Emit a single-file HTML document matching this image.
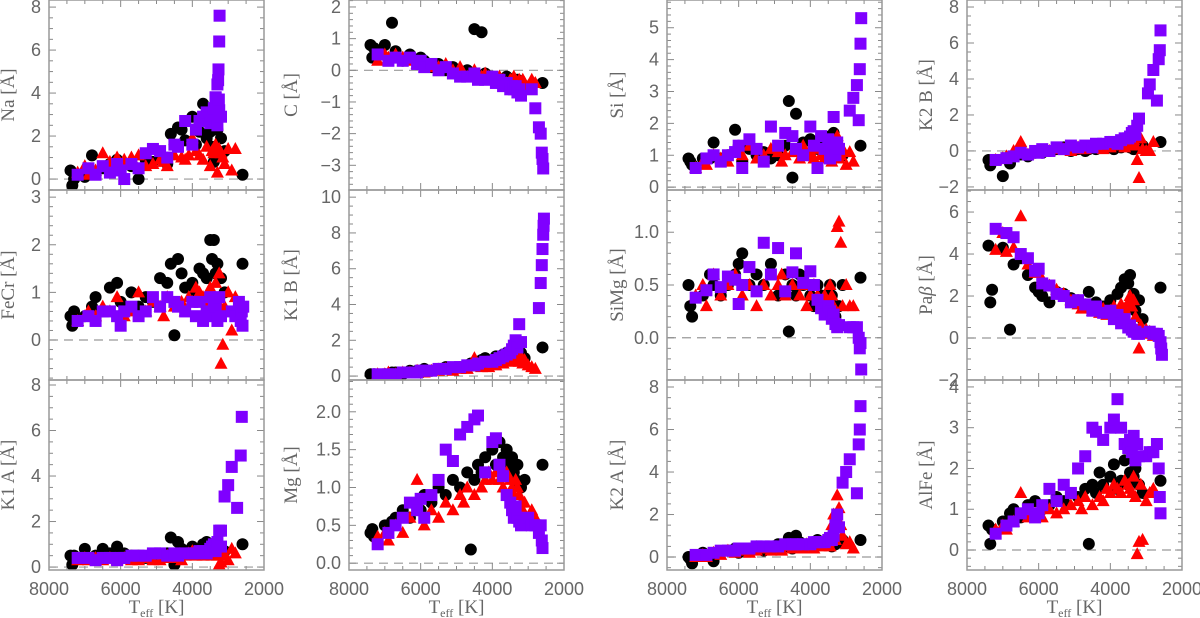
<!DOCTYPE html>
<html><head><meta charset="utf-8"><style>
html,body{margin:0;padding:0;background:#fff;}
svg{display:block;font-family:"Liberation Sans",sans-serif;}
</style></head><body>
<svg id="fig" width="1200" height="618" viewBox="0 0 1200 618" xmlns="http://www.w3.org/2000/svg"></svg>
<script>
// Shared effective temperatures for each star sample
const teffBlack = [7400,7350,7300,7000,6800,6700,6500,6300,6100,6000,5900,5700,5500,5300,5100,4900,4700,4600,4500,4400,4300,4200,4000,3900,3800,3700,3600,3500,3450,3400,3350,3300,3200,3100,2600];
const teffRed = [7200,7000,6900,6700,6500,6300,6100,5900,5700,5500,5300,5100,4900,4800,4700,4500,4300,4200,4100,4000,3900,3800,3700,3600,3500,3450,3400,3350,3300,3250,3200,3150,3100,3000,2900,2800];
const teffPurple = [7200,6900,6700,6500,6300,6100,6000,5900,5700,5500,5300,5100,4900,4700,4500,4400,4200,4000,3900,3800,3700,3600,3500,3450,3400,3350,3300,3250,3200];
const xTicks = [8000,6000,4000,2000];

// Black circle values
const naBlack = [0.4,-0.3,0,0.1,1.1,0.3,0.5,0.7,0.9,0.5,0.7,0.6,0,0.9,0.8,1.0,0.7,2.1,1.6,2.4,2.3,1.8,2.9,1.6,2.2,3.5,1.9,2.2,1.5,0.8,1.3,2.3,1.9,1.3,0.2];
const cBlack = [0.8,0.4,0.7,0.8,1.5,0.6,0.3,0.5,0.2,0.4,0.3,0.1,0.2,0,0.1,-0.1,0,-0.1,1.3,-0.2,1.2,-0.1,-0.2,-0.3,-0.3,-0.4,-0.2,-0.5,-0.3,-0.4,-0.5,-0.3,-0.4,-0.5,-0.4];
const siBlack = [0.9,0.8,0.7,0.9,0.9,1.4,0.9,1.0,1.8,1.3,0.8,1.2,1.0,1.1,0.9,1.0,1.3,2.7,0.3,2.3,1.1,1.4,1.5,1.3,1.2,1.2,1.5,1.0,1.6,0.9,1.7,1.5,1.2,1.0,1.3];
const k2bBlack = [-0.5,-0.8,-0.6,-1.4,-0.7,-0.3,-0.2,-0.3,-0.1,0,-0.1,0,0.1,0.2,0,0.1,0,0.1,0.2,0.1,0.3,0.2,0.2,0.1,0.3,0.2,0.4,0.5,0.2,0.3,0.1,0.4,0.5,0.3,0.5];
const fecrBlack = [0.5,0.3,0.6,0.5,0.7,0.9,0.6,1.1,1.2,0.8,0.6,1.0,0.7,0.9,0.8,1.3,1.2,1.6,0.1,1.7,1.4,1.1,1.2,1.0,1.5,1.4,1.3,2.1,1.7,2.1,1.4,1.6,1.3,1.0,1.6];
const k1bBlack = [0.1,0,0.1,0.1,0.2,0.2,0.1,0.3,0.3,0.2,0.4,0.3,0.4,0.5,0.4,0.5,0.6,0.7,0.6,0.8,0.9,1.0,0.8,1.1,0.9,1.2,1.3,1.1,1.4,1.6,1.2,1.5,1.3,1.0,1.6];
const simgBlack = [0.5,0.3,0.2,0.4,0.6,0.5,0.4,0.5,0.6,0.7,0.8,0.5,0.6,0.5,0.7,0.4,0.6,0.06,0.5,0.4,0.6,0.5,0.4,0.3,0.5,0.4,0.3,0.4,0.5,0.4,0.3,0.2,0.3,0.5,0.57];
const pabBlack = [4.4,1.7,2.3,4.3,0.4,3.5,3.8,3.0,2.4,2.2,2.0,1.7,2.2,2.1,1.9,1.8,1.6,2.2,1.4,1.7,1.3,1.5,1.8,1.3,2.1,2.4,2.8,2.6,3.0,1.7,2.1,1.3,1.8,0.9,2.4];
const k1aBlack = [0.5,0.1,0.5,0.8,0.4,0.5,0.8,0.6,0.9,0.4,0.6,0.5,0.5,0.4,0.5,0.6,0.6,1.3,0.1,1.1,0.8,0.6,0.9,0.7,0.8,1.0,1.1,0.9,0.8,1.0,0.7,0.9,0.6,0.7,1.0];
const mgBlack = [0.4,0.45,0.35,0.5,0.55,0.6,0.7,0.6,0.8,0.7,0.9,0.8,1.0,0.9,1.1,1.0,1.2,0.18,1.1,1.3,1.2,1.4,1.5,1.3,1.6,1.4,1.5,1.3,1.4,1.2,1.1,1.3,1.0,1.1,1.3];
const k2aBlack = [0,-0.1,-0.3,0.2,0.1,-0.2,0.2,0.3,0.4,0.2,0.3,0.4,0.5,0.3,0.4,0.6,0.5,0.9,0.4,1.0,0.7,0.5,0.6,0.7,0.8,0.6,0.7,0.9,0.8,0.5,0.7,0.6,0.7,0.8,0.8];
const alfeBlack = [0.6,0.15,0.5,0.7,0.9,1.0,0.8,1.1,1.2,0.9,1.0,1.1,1.3,1.2,1.4,1.3,1.5,0.15,1.6,1.4,1.9,1.6,1.8,2.1,1.5,1.7,2.2,1.6,1.9,1.7,1.8,2.0,1.6,1.4,1.7];

// Red triangle values
const naRed = [0.3,0.6,0.2,0.4,1.2,0.8,1.0,0.9,1.0,1.1,0.6,0.7,0.9,0.8,0.6,1.1,1.0,0.9,1.1,1.9,1.3,1.1,0.9,1.5,0.6,1.3,1.2,1.6,0.3,1.4,1.2,1.0,0.7,1.4,0.4,1.4];
const cRed = [0.3,0.5,0.4,0.5,0.4,0.3,0.2,0.2,0.1,0.1,0.2,0,0.1,-0.1,-0.2,0,-0.2,-0.1,-0.2,-0.3,-0.3,-0.2,-0.3,-0.4,-0.3,-0.4,-0.2,-0.5,-0.4,-0.3,-0.4,-0.3,-0.4,-0.5,-0.3,-0.4];
const siRed = [0.6,0.8,0.7,1.0,0.9,0.8,1.1,1.0,1.3,0.9,1.0,1.2,1.1,0.8,1.0,1.1,0.9,1.3,1.0,1.1,0.9,1.2,1.0,0.9,1.1,1.0,0.8,1.2,1.0,1.6,0.9,1.0,1.2,0.7,1.1,0.8];
const k2bRed = [-0.5,-0.4,-0.3,0,0.5,-0.2,-0.1,0,0,0.1,0.1,0,0.2,0.1,0.1,0.2,0.2,0.1,0.3,0.2,0.3,0.3,0.4,0.2,0.5,0.3,0.4,0.6,0.3,-0.5,-1.5,0.7,0.1,0,0,0.5];
const fecrRed = [0.4,0.5,0.6,0.5,0.7,0.6,0.9,0.5,0.6,1.0,0.6,0.8,0.7,0.5,0.9,0.7,0.8,0.6,0.9,0.8,1.1,1.0,0.9,0.8,1.1,0.7,0.9,1.2,0.8,1.4,-0.5,-0.1,0.7,1.0,0.2,0.9];
const k1bRed = [0.1,0.1,0.2,0.1,0.2,0.2,0.3,0.2,0.3,0.3,0.4,0.3,0.4,0.5,0.4,1.0,0.5,0.6,0.5,0.7,0.6,0.8,0.7,0.9,0.8,1.0,0.9,1.2,1.0,0.8,1.1,0.7,0.9,0.6,0.5,0.4];
const simgRed = [0.4,0.5,0.3,0.6,0.4,0.5,0.6,0.4,0.5,0.3,0.5,0.4,0.5,0.6,0.4,0.5,0.4,0.5,0.3,0.4,0.5,0.4,0.3,0.4,0.3,0.5,0.4,0.3,0.2,1.05,1.1,0.9,0.3,0.5,0.3,0.3];
const pabRed = [4.2,5.0,4.1,4.3,5.8,3.5,3.1,2.8,2.5,2.3,2.1,1.8,1.6,1.4,1.5,1.3,1.2,1.4,1.1,1.3,1.5,1.2,1.6,1.4,1.7,2.0,1.5,1.8,1.0,0.3,-0.5,0.6,0.2,0.4,0.3,0.1];
const k1aRed = [0.3,0.4,0.3,0.4,0.3,0.4,0.3,0.4,0.3,0.3,0.4,0.3,0.3,0.4,0.5,0.4,0.3,0.5,0.6,0.7,0.5,0.6,0.5,0.7,0.6,0.5,0.7,0.6,0.5,0.1,0.2,0.7,0.5,0.3,0.8,0.6];
const mgRed = [0.35,0.4,0.3,0.5,0.4,0.6,1.1,0.5,0.7,0.6,0.8,0.7,0.9,0.8,1.0,0.9,1.0,1.1,1.2,1.1,1.2,1.1,1.0,1.2,1.1,1.0,0.9,1.1,1.0,0.9,0.8,0.7,0.8,0.6,0.7,0.6];
const k2aRed = [0,0.1,0,0.2,0.1,0.3,0.2,0.3,0.2,0.3,0.4,0.3,0.4,0.3,0.5,0.4,0.5,0.4,0.6,0.5,0.4,0.6,0.5,0.6,0.7,0.5,1.5,2.0,0.8,2.9,2.3,1.5,1.0,0.6,0.7,0.4];
const alfeRed = [0.5,0.6,0.5,0.7,1.4,0.8,0.9,0.8,1.0,0.9,1.0,1.1,1.2,1.0,1.3,1.1,1.3,1.2,1.5,1.4,1.6,1.5,1.4,1.7,1.6,1.5,1.4,1.8,1.3,-0.1,0.2,1.6,0.25,1.2,1.4,1.5];

// Purple square values (main body)
const naPurple = [0.2,0.5,0.2,0.6,0.3,0.7,0.4,0.0,0.7,0.5,1.2,1.4,1.3,1.0,1.6,1.5,2.7,1.6,2.3,2.7,2.9,3.1,2.6,3.0,3.3,3.8,2.5,3.2,2.9];
const cPurple = [0.5,0.3,0.4,0.3,0.4,0.2,0.3,0.1,0.2,0,0.1,-0.1,-0.2,-0.2,-0.1,-0.3,-0.3,-0.2,-0.4,-0.3,-0.5,-0.4,-0.6,-0.5,-0.6,-0.5,-0.7,-0.6,-0.8];
const siPurple = [0.6,0.9,1.0,0.8,1.0,1.1,1.3,0.6,1.5,1.2,0.8,1.9,1.3,1.7,1.6,1.2,1.0,1.9,1.3,0.6,1.6,1.2,1.5,0.9,1.3,2.2,1.0,1.4,1.2];
const k2bPurple = [-0.5,-0.4,-0.3,-0.1,-0.2,0,-0.1,0.1,0,0.2,0.1,0.3,0.2,0.3,0.2,0.4,0.4,0.5,0.5,0.4,0.6,0.7,0.7,0.8,1.0,1.1,0.9,1.4,1.8];
const fecrPurple = [0.4,0.5,0.4,0.6,0.6,0.5,0.3,0.6,0.7,0.5,0.6,0.9,0.7,0.9,0.8,0.7,0.6,0.8,0.5,0.8,0.4,0.6,0.9,0.5,0.8,0.7,0.4,0.9,0.5];
const k1bPurple = [0.1,0.1,0.1,0.2,0.2,0.2,0.3,0.3,0.3,0.4,0.4,0.5,0.5,0.6,0.6,0.7,0.8,0.8,0.9,1.0,1.1,1.2,1.3,1.5,1.7,2.0,1.6,2.9,1.9];
const simgPurple = [0.38,0.45,0.6,0.48,0.58,0.55,0.32,0.5,0.67,0.44,0.9,0.6,0.85,0.44,0.62,0.8,0.52,0.63,0.5,0.36,0.28,0.22,0.3,0.25,0.18,0.22,0.13,0.1,0.12];
const pabPurple = [5.2,5.0,4.8,4.0,3.8,3.2,3.3,2.6,2.5,2.1,2.0,1.7,1.8,1.6,1.3,1.5,1.2,1.3,0.9,1.1,0.7,0.9,0.5,0.6,0.4,0.3,0.3,0.2,0.2];
const k1aPurple = [0.4,0.4,0.3,0.4,0.4,0.3,0.4,0.4,0.5,0.5,0.5,0.6,0.6,0.5,0.6,0.5,0.6,0.6,0.6,0.7,0.7,0.6,0.8,0.9,1.0,0.7,1.1,1.6,0.9];
const mgPurple = [0.25,0.4,0.5,0.6,0.8,0.7,0.85,0.6,0.9,1.1,1.5,1.35,1.7,1.8,1.9,1.95,1.2,1.6,1.65,1.3,1.15,0.9,0.8,0.7,0.6,0.75,0.6,0.55,0.5];
const k2aPurple = [0.1,0.1,0.2,0.3,0.3,0.3,0.4,0.4,0.4,0.5,0.5,0.5,0.5,0.6,0.6,0.6,0.6,0.6,0.7,0.7,0.7,0.7,0.8,0.9,0.8,1.0,1.5,2.0,1.4];
const alfePurple = [0.4,0.6,0.7,0.9,1.0,0.8,0.9,1.1,1.5,1.2,1.6,1.4,2.0,2.3,3.0,2.9,2.7,3.0,3.2,3.7,3.0,2.6,2.5,2.7,2.4,2.8,2.2,2.6,2.3];

// Purple cool tail (temperature, value)
const naTailT = [3350,3300,3280,3270,3260,3250,3240];
const naTailV = [3.8,4.4,4.6,5.1,3.7,6.4,7.6];
const cTailT = [2900,2800,2700,2650,2620,2600,2580];
const cTailV = [-0.6,-1.2,-1.8,-2.0,-2.6,-2.8,-3.1];
const siTailT = [2900,2800,2700,2650,2620,2600,2580];
const siTailV = [2.4,2.8,3.2,2.1,3.7,4.5,5.3];
const k2bTailT = [2950,2900,2800,2700,2650,2620,2600];
const k2bTailV = [3.2,3.7,4.5,2.8,5.1,5.6,6.7];
const fecrTailT = [2900,2800,2700,2650,2620,2600,2580];
const fecrTailV = [0.6,0.5,0.8,0.4,0.6,0.3,0.7];
const k1bTailT = [2700,2650,2620,2600,2580,2570,2560];
const k1bTailV = [3.8,5.2,6.2,7.1,7.9,8.4,8.8];
const simgTailT = [2900,2800,2700,2650,2620,2600,2580];
const simgTailV = [0.1,0.1,0.1,0.0,-0.1,-0.05,-0.3];
const pabTailT = [2900,2800,2700,2650,2600,2580,2560];
const pabTailV = [0.3,0.2,0.2,0.1,-0.2,-0.5,-0.8];
const k1aTailT = [3200,3100,3000,2900,2750,2650,2620];
const k1aTailV = [1.6,3.1,3.6,4.4,2.6,4.9,6.6];
const mgTailT = [3000,2900,2800,2700,2650,2620,2600];
const mgTailV = [0.6,0.5,0.5,0.4,0.5,0.3,0.2];
const k2aTailT = [3100,3000,2900,2700,2650,2620,2600];
const k2aTailV = [3.5,4.0,4.6,3.0,5.3,6.0,7.1];
const alfeTailT = [3000,2900,2800,2700,2650,2620,2600];
const alfeTailV = [2.3,2.4,2.4,2.6,2.0,1.3,0.9];

// Y-axis ranges and ticks per panel: [min, max, majorStep, minorStep, decimals]
const yNa = [-0.51,8.33,2,0.5,0];
const yC = [-3.78,2.22,1,0.2,0];
const ySi = [-0.09,5.87,1,0.2,0];
const yK2b = [-2.17,8.39,2,0.5,0];
const yFecr = [-0.84,3.15,1,0.2,0];
const yK1b = [-0.22,10.4,2,0.5,0];
const ySimg = [-0.40,1.40,0.5,0.1,1];
const yPab = [-2.0,7.05,2,0.5,0];
const yK1a = [-0.13,8.22,2,0.5,0];
const yMg = [-0.09,2.42,0.5,0.1,1];
const yK2a = [-0.61,8.33,2,0.5,0];
const yAlfe = [-0.49,4.17,1,0.2,0];

const NS = "http://www.w3.org/2000/svg";
const svg = document.getElementById('fig');
const colLeft = [49,349,667,967];
const labelOff = [35,52,44,35];
const rowTop = [0,190,380];
const PW = 215, PH = 190;
const XMIN = 8000, XMAX = 2000;

const panels = [
  {key:"na", label:"Na", y:yNa, b:naBlack, r:naRed, p:naPurple, tt:naTailT, tv:naTailV},
  {key:"c", label:"C", y:yC, b:cBlack, r:cRed, p:cPurple, tt:cTailT, tv:cTailV},
  {key:"si", label:"Si", y:ySi, b:siBlack, r:siRed, p:siPurple, tt:siTailT, tv:siTailV},
  {key:"k2b", label:"K2 B", y:yK2b, b:k2bBlack, r:k2bRed, p:k2bPurple, tt:k2bTailT, tv:k2bTailV},
  {key:"fecr", label:"FeCr", y:yFecr, b:fecrBlack, r:fecrRed, p:fecrPurple, tt:fecrTailT, tv:fecrTailV},
  {key:"k1b", label:"K1 B", y:yK1b, b:k1bBlack, r:k1bRed, p:k1bPurple, tt:k1bTailT, tv:k1bTailV},
  {key:"simg", label:"SiMg", y:ySimg, b:simgBlack, r:simgRed, p:simgPurple, tt:simgTailT, tv:simgTailV},
  {key:"pab", label:"Pab", y:yPab, b:pabBlack, r:pabRed, p:pabPurple, tt:pabTailT, tv:pabTailV},
  {key:"k1a", label:"K1 A", y:yK1a, b:k1aBlack, r:k1aRed, p:k1aPurple, tt:k1aTailT, tv:k1aTailV},
  {key:"mg", label:"Mg", y:yMg, b:mgBlack, r:mgRed, p:mgPurple, tt:mgTailT, tv:mgTailV},
  {key:"k2a", label:"K2 A", y:yK2a, b:k2aBlack, r:k2aRed, p:k2aPurple, tt:k2aTailT, tv:k2aTailV},
  {key:"alfe", label:"AlFe", y:yAlfe, b:alfeBlack, r:alfeRed, p:alfePurple, tt:alfeTailT, tv:alfeTailV}
];

function mk(tag, attrs, parent){
  const e = document.createElementNS(NS, tag);
  for (const k in attrs) e.setAttribute(k, attrs[k]);
  (parent||svg).appendChild(e);
  return e;
}
const defs = mk('defs', {});

panels.forEach((P, i) => {
  const col = i % 4, row = Math.floor(i / 4);
  const L = colLeft[col], T = rowTop[row], R = L + PW, B = T + PH;
  const [ymin, ymax, maj, mnr, dec] = P.y;
  const xs = v => L + (XMIN - v) / (XMIN - XMAX) * PW;
  const ys = v => B - (v - ymin) / (ymax - ymin) * PH;

  const g = mk('g', {});
  
  

  const cp = mk('clipPath', {id: 'clip' + i}, defs);
  mk('rect', {x: L, y: T, width: PW, height: PH}, cp);

  const zl = mk('line', {x1: L, x2: R, y1: ys(0), y2: ys(0), stroke: '#999', 'stroke-width': 1.2, 'stroke-dasharray': '9,6'}, g);
  
  

  const tg = mk('g', {stroke: '#888', 'stroke-width': 1}, g);
  for (let t = 2000; t <= 8000; t += 500) {
    const len = (t % 2000 === 0) ? 7 : 4;
    const x = xs(t);
    mk('line', {x1: x, x2: x, y1: B, y2: B - len}, tg);
    mk('line', {x1: x, x2: x, y1: T, y2: T + len}, tg);
  }
  const m0 = Math.ceil(ymin / mnr - 1e-6);
  for (let k = m0; k * mnr <= ymax + 1e-9; k++) {
    const v = k * mnr;
    const isMaj = Math.abs(v / maj - Math.round(v / maj)) < 1e-6;
    const len = isMaj ? 7 : 4;
    const y = ys(v);
    mk('line', {x1: L, x2: L + len, y1: y, y2: y}, tg);
    mk('line', {x1: R, x2: R - len, y1: y, y2: y}, tg);
    if (isMaj) {
      const lab = mk('text', {x: L - 8, y: y + 6, 'text-anchor': 'end', 'font-size': 18, fill: '#666'}, g);
      lab.textContent = (v < 0 ? '\u2212' : '') + Math.abs(v).toFixed(dec);
      
      
    }
  }

  const pts = mk('g', {'clip-path': 'url(#clip' + i + ')'}, g);
  P.b.forEach((v, j) => {
    const c = mk('circle', {cx: xs(teffBlack[j]), cy: ys(v), r: 6, fill: '#000'}, pts);
    
    
  });
  P.r.forEach((v, j) => {
    const x = xs(teffRed[j]), y = ys(v);
    const t = mk('polygon', {points: `${x},${y-7} ${x-6.5},${y+5} ${x+6.5},${y+5}`, fill: '#ff0000'}, pts);
    
    
  });
  const sq = (tv, v) => {
    const s = mk('rect', {x: xs(tv) - 6, y: ys(v) - 6, width: 12, height: 12, fill: '#7f00ff'}, pts);
    
    
  };
  P.p.forEach((v, j) => sq(teffPurple[j], v));
  P.tt.forEach((t, j) => sq(t, P.tv[j]));

  const fr = mk('rect', {x: L, y: T, width: PW, height: PH, fill: 'none', stroke: '#999', 'stroke-width': 1.5}, g);
  
  

  const lx = L - labelOff[col], ly = (T + B) / 2;
  const yl = mk('text', {x: lx, y: ly, 'text-anchor': 'middle', 'font-size': 19, fill: '#666', 'font-family': 'Liberation Serif, serif', transform: `rotate(-90 ${lx} ${ly})`}, g);
  
  
  if (P.key === 'pab') {
    yl.appendChild(document.createTextNode('Pa'));
    const it = mk('tspan', {'font-style': 'italic'}, yl); it.textContent = '\u03B2';
    yl.appendChild(document.createTextNode(' [\u00C5]'));
  } else {
    yl.textContent = P.label + ' [\u00C5]';
  }

  if (row === 2) {
    xTicks.forEach(t => {
      const xl = mk('text', {x: xs(t), y: 595, 'text-anchor': 'middle', 'font-size': 18, fill: '#666'}, g);
      xl.textContent = String(t);
      
      
    });
    const xt = mk('text', {x: L + PW / 2, y: 613, 'text-anchor': 'middle', 'font-size': 19, fill: '#666', 'font-family': 'Liberation Serif, serif'}, g);
    
    
    xt.appendChild(document.createTextNode('T'));
    const sub = mk('tspan', {'font-size': 12, dy: 4}, xt); sub.textContent = 'eff';
    const rest = mk('tspan', {dy: -4}, xt); rest.textContent = ' [K]';
  }
});
</script>
</body></html>
